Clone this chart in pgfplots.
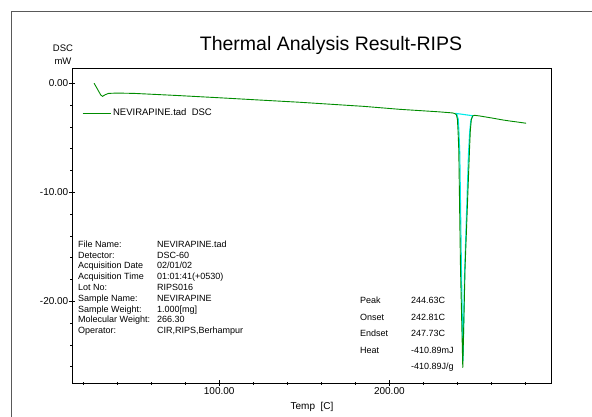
\documentclass[border=0pt]{standalone}
\usepackage{fontspec}
\setmainfont{Liberation Sans}
\usepackage{pgfplots}
\pgfplotsset{compat=1.18}
\definecolor{dscgreen}{RGB}{0,140,0}
\definecolor{dsccyan}{RGB}{0,235,235}
\begin{document}
\begin{tikzpicture}
\begin{axis}[
  at={(72pt,-383pt)}, anchor=south west,
  width=479pt, height=315pt, scale only axis,
  xmin=13.5, xmax=295, ymin=-27.5, ymax=1.4,
  axis line style={line width=0.9pt},
  xtick={100,200}, xticklabels={100.00,200.00},
  minor xtick={20,40,60,80,120,140,160,180,220,240,260,280},
  ytick={-20,-10,0}, yticklabels={-20.00,-10.00,0.00},
  minor ytick={-26,-24,-22,-18,-16,-14,-12,-8,-6,-4,-2},
  xtick pos=bottom, ytick pos=left,
  tick align=center,
  major tick length=6pt, minor tick length=3pt,
  tick style={black, line width=0.6pt},
  /pgf/number format/assume math mode=true,
  ticklabel style={font=\fontsize{10}{12}\selectfont},
  yticklabel style={inner xsep=0.5pt},
  xticklabel style={inner ysep=1pt},
  legend style={draw=none, fill=none, at={(axis description cs:0.0,0.857)}, anchor=west,
    xshift=7pt, font=\fontsize{9.5}{11}\selectfont, legend cell align=left},
  legend image code/.code={\draw[#1, line width=0.9pt] (0pt,0pt) -- (28pt,0pt);},
]
\addplot[dsccyan, line width=1.1pt, forget plot] coordinates {
(238.8,-2.76) (249,-2.98) (247.9,-3.4) (247.2,-4.5) (246.5,-6.5) (244.2,-17.5)
(243.3,-25.5) (242.4,-17.5) (241.4,-6.5) (240.9,-4.5) (240.5,-3.3) (239.6,-2.85) (238.8,-2.76)
};
\addplot[dscgreen, line width=0.9pt] coordinates {
(26.5,0.0) (28.5,-0.55) (30.5,-1.1) (31.5,-1.2) (33,-1.05) (35,-0.93) (40,-0.9)
(50,-0.93) (75,-1.12) (100,-1.33) (125,-1.55) (147,-1.74) (165,-1.92) (185,-2.12)
(206,-2.39) (220,-2.53) (229,-2.62) (237,-2.72) (238.5,-2.78) (239.4,-2.9)
(240.0,-3.3) (240.4,-4.5) (240.8,-6.1) (241.8,-16.9) (243.15,-26.1) (244.5,-16.9)
(247.1,-6.1) (247.6,-4.3) (248.2,-3.3) (249.0,-3.0) (250,-2.94) (253,-3.0)
(260,-3.18) (266,-3.35) (270.6,-3.46) (275,-3.55) (280.4,-3.67)
};
\addlegendentry{NEVIRAPINE.tad\ \ DSC}
\end{axis}
\draw[black!65, line width=1pt] (11pt,-12pt) rectangle (640pt,-460pt);
\node[font=\fontsize{19.5}{22}\selectfont, anchor=base] at (331pt,-51pt) {Thermal Analysis Result-RIPS};
\node[font=\fontsize{9.5}{13}\selectfont, align=center] at (63pt,-55pt) {DSC\\mW};
\node[font=\fontsize{10}{12}\selectfont, anchor=base] at (312pt,-409pt) {Temp\ \ [C]};
\node[font=\fontsize{9}{10.8}\selectfont, align=left, anchor=north west, inner sep=0pt] at (78pt,-240.5pt) {%
\makebox[79pt][l]{File Name:}NEVIRAPINE.tad\\
\makebox[79pt][l]{Detector:}DSC-60\\
\makebox[79pt][l]{Acquisition Date}02/01/02\\
\makebox[79pt][l]{Acquisition Time}01:01:41(+0530)\\
\makebox[79pt][l]{Lot No:}RIPS016\\
\makebox[79pt][l]{Sample Name:}NEVIRAPINE\\
\makebox[79pt][l]{Sample Weight:}1.000[mg]\\
\makebox[79pt][l]{Molecular Weight:}266.30\\
\makebox[79pt][l]{Operator:}CIR,RIPS,Berhampur};
\node[font=\fontsize{9}{16.5}\selectfont, align=left, anchor=north west, inner sep=0pt] at (360pt,-297pt) {%
\makebox[51pt][l]{Peak}244.63C\\
\makebox[51pt][l]{Onset}242.81C\\
\makebox[51pt][l]{Endset}247.73C\\
\makebox[51pt][l]{Heat}-410.89mJ\\
\makebox[51pt][l]{}-410.89J/g};
\pgfresetboundingbox
\path[use as bounding box] (0pt,0pt) rectangle (592pt,-417pt);
\end{tikzpicture}
\end{document}
